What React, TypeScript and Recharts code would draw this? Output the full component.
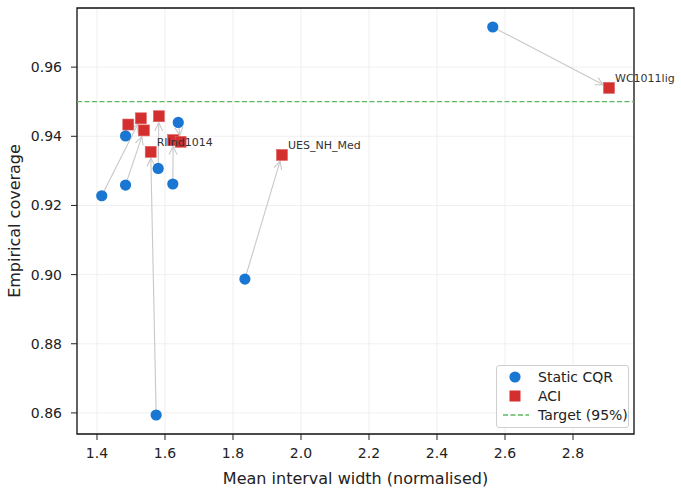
import React from 'react';
import {
  ScatterChart, Scatter, XAxis, YAxis, CartesianGrid,
  ReferenceLine, ReferenceArea,
} from 'recharts';

// Static CQR results (mean normalised width, empirical coverage)
const staticWidth = [1.414, 1.484, 1.484, 1.580, 1.623, 1.639, 1.574, 1.835, 2.564];
const staticCov = [0.9228, 0.9259, 0.9401, 0.9307, 0.9262, 0.9440, 0.8594, 0.8987, 0.9716];

// ACI results, same row order as the static ones
const aciWidth = [1.529, 1.538, 1.492, 1.582, 1.624, 1.646, 1.558, 1.944, 2.906];
const aciCov = [0.9452, 0.9417, 0.9434, 0.9458, 0.9389, 0.9384, 0.9355, 0.9346, 0.954];
const seriesNames = ['', '', '', '', '', '', 'RIInd1014', 'UES_NH_Med', 'WC1011lig'];

const TARGET = 0.95;
const X_TICKS = [1.4, 1.6, 1.8, 2.0, 2.2, 2.4, 2.6, 2.8];
const Y_TICKS = [0.86, 0.88, 0.90, 0.92, 0.94, 0.96];
const X_DOMAIN: [number, number] = [1.3412, 2.9794];
const Y_DOMAIN: [number, number] = [0.8539, 0.9771];

const BLUE = '#1976d2';
const RED = '#d32f2f';
const GREEN = '#5cb85c';
const FONT = 'DejaVu Sans, sans-serif';

const staticData = staticWidth.map((x, i) => ({ x, y: staticCov[i] }));
const aciData = aciWidth.map((x, i) => ({ x, y: aciCov[i], name: seriesNames[i] }));

const Dot = (p: any) => <circle cx={p.cx} cy={p.cy} r={5.6} fill={BLUE} />;

const Square = (p: any) => (
  <g>
    <rect x={p.cx - 5.5} y={p.cy - 5.5} width={11} height={11} fill={RED} stroke="#e06060" strokeWidth={0.6} />
    {p.payload?.name ? (
      <text x={p.cx + 6} y={p.cy - 5.5} fontSize={11} fill="#333" fontFamily={FONT}>
        {p.payload.name}
      </text>
    ) : null}
  </g>
);

// grey "->" arrow, trimmed a little at both ends
const Arrow = (p: any) => {
  const { x1, y1, x2, y2 } = p;
  const dx = x2 - x1;
  const dy = y2 - y1;
  const len = Math.hypot(dx, dy) || 1;
  const ux = dx / len;
  const uy = dy / len;
  const sx = x1 + ux * 3;
  const sy = y1 + uy * 3;
  const ex = x2 - ux * 6.5;
  const ey = y2 - uy * 6.5;
  const hx = ex - ux * 8;
  const hy = ey - uy * 8;
  const px = -uy * 4;
  const py = ux * 4;
  return (
    <g stroke="#c8c8c8" strokeWidth={1.1} fill="none">
      <line x1={sx} y1={sy} x2={ex} y2={ey} />
      <polyline points={`${hx + px},${hy + py} ${ex},${ey} ${hx - px},${hy - py}`} />
    </g>
  );
};

const tickStyle = { fill: '#222', fontSize: 14, fontFamily: FONT };

const Legend = () => (
  <div
    style={{
      position: 'absolute', left: 496, top: 365, width: 131, height: 61,
      border: '1px solid #cfcfcf', borderRadius: 3, background: 'rgba(255,255,255,0.85)',
      fontFamily: FONT, fontSize: 14, color: '#222',
    }}
  >
    {[
      { label: 'Static CQR', mark: <circle cx={14} cy={8} r={5.6} fill={BLUE} /> },
      { label: 'ACI', mark: <rect x={8.5} y={2.5} width={11} height={11} fill={RED} /> },
      { label: 'Target (95%)', mark: <line x1={2} y1={8} x2={28} y2={8} stroke={GREEN} strokeWidth={1.3} strokeDasharray="5 2.5" /> },
    ].map((it, i) => (
      <div key={i} style={{ position: 'absolute', left: 4, top: 3 + i * 19, height: 16, display: 'flex', alignItems: 'center' }}>
        <svg width={30} height={16}>{it.mark}</svg>
        <span style={{ marginLeft: 7, lineHeight: '16px', whiteSpace: 'nowrap' }}>{it.label}</span>
      </div>
    ))}
  </div>
);

export default function App() {
  return (
    <div style={{ position: 'absolute', left: 0, top: 0, width: 681, height: 492, background: '#fff' }}>
      <ScatterChart width={681} height={492} margin={{ top: 8, right: 47, bottom: 0, left: 0 }}>
        <CartesianGrid stroke="#ececec" strokeWidth={0.8} />
        <XAxis
          type="number"
          dataKey="x"
          domain={X_DOMAIN}
          ticks={X_TICKS}
          height={58}
          axisLine={false}
          tickLine={{ stroke: '#222' }}
          tickSize={6}
          tickMargin={8}
          tick={tickStyle}
          tickFormatter={(v: number) => v.toFixed(1)}
          label={{ value: 'Mean interval width (normalised)', position: 'center', dy: 15, fill: '#222', fontSize: 16, fontFamily: FONT }}
        />
        <YAxis
          type="number"
          dataKey="y"
          domain={Y_DOMAIN}
          ticks={Y_TICKS}
          width={77}
          axisLine={false}
          tickLine={{ stroke: '#222' }}
          tickSize={6}
          tickMargin={9}
          tick={tickStyle}
          tickFormatter={(v: number) => v.toFixed(2)}
          label={{ value: 'Empirical coverage', position: 'center', angle: -90, dx: -24, fill: '#222', fontSize: 16, fontFamily: FONT }}
        />
        <ReferenceLine y={TARGET} stroke={GREEN} strokeWidth={1.3} strokeDasharray="5 2.5" />
        {staticData.map((s, i) => (
          <ReferenceLine
            key={i}
            segment={[{ x: s.x, y: s.y }, { x: aciData[i].x, y: aciData[i].y }]}
            shape={Arrow}
          />
        ))}
        <Scatter data={staticData} shape={Dot} isAnimationActive={false} />
        <Scatter data={aciData} shape={Square} isAnimationActive={false} />
        <ReferenceArea x1={X_DOMAIN[0]} x2={X_DOMAIN[1]} y1={Y_DOMAIN[0]} y2={Y_DOMAIN[1]} fill="none" stroke="#111" strokeWidth={1.3} />
      </ScatterChart>
      <Legend />
    </div>
  );
}
